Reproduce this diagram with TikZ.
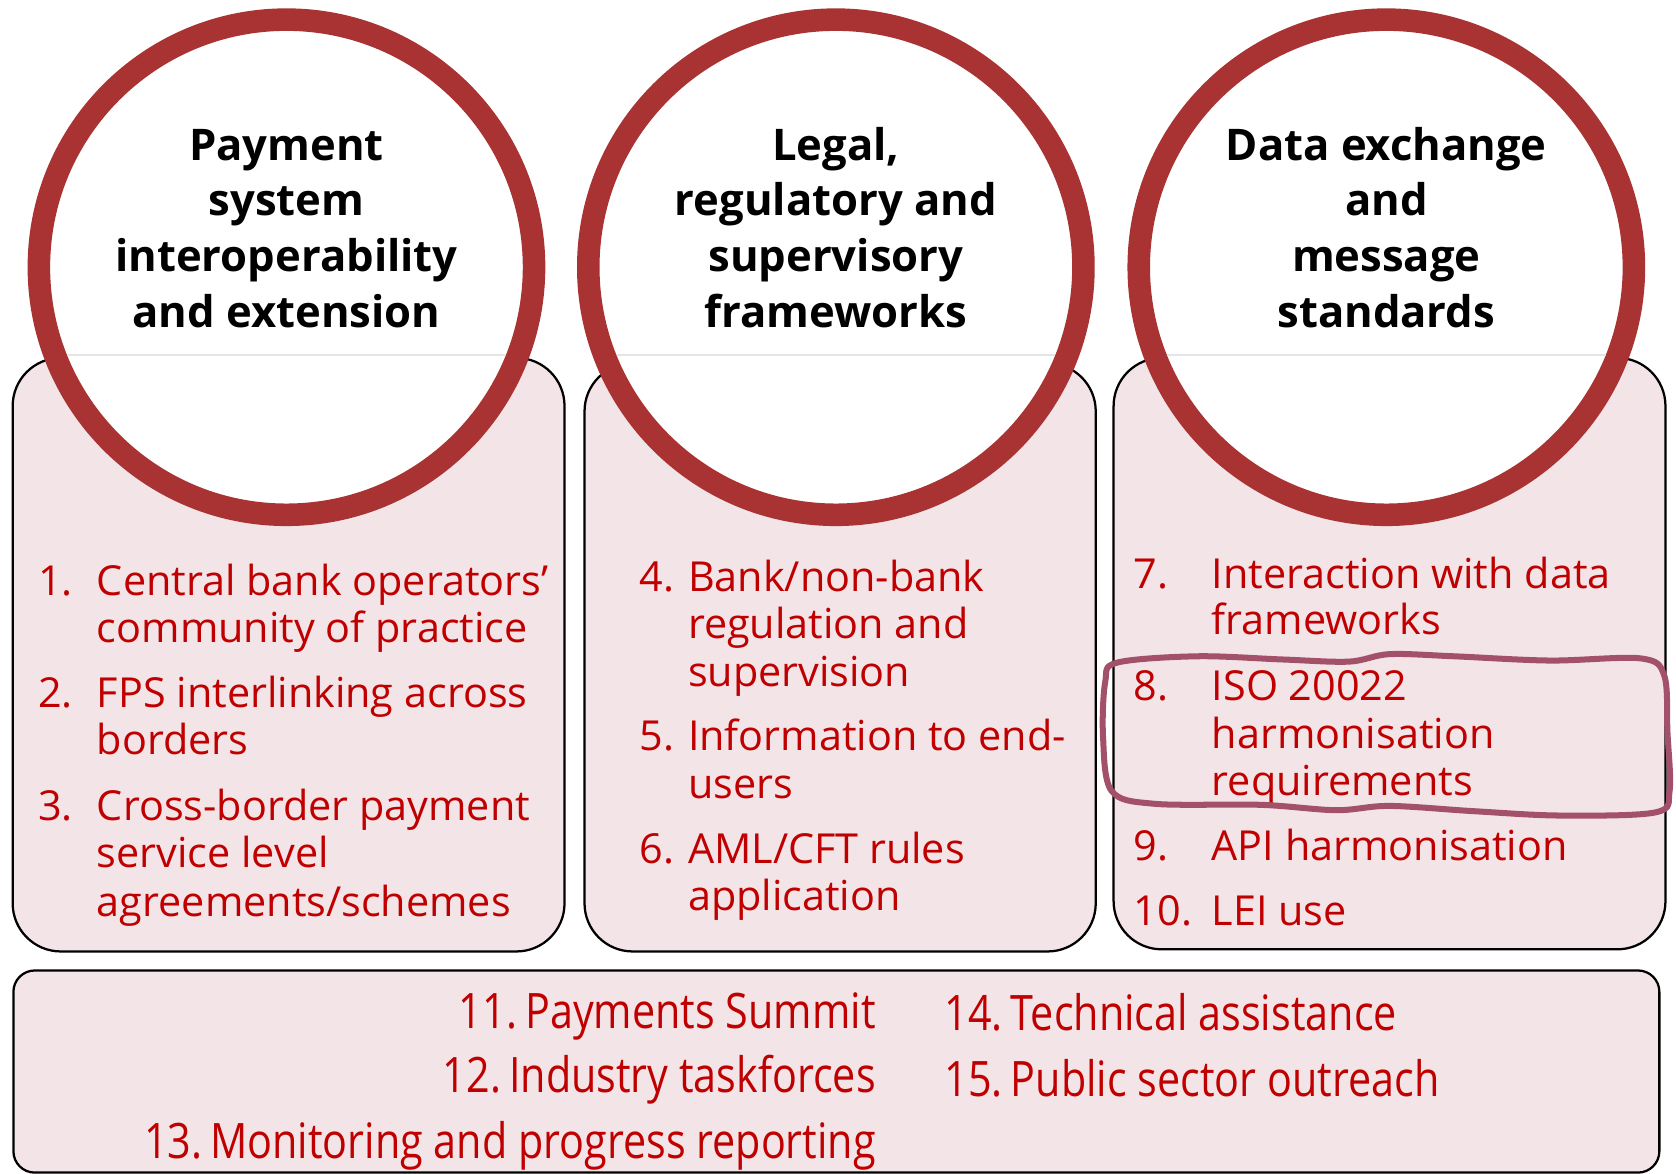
\documentclass[tikz,border=0pt]{standalone}
\usepackage{fontspec}
\setmainfont{Open Sans}
\newfontfamily\narrowfont[FakeStretch=0.845]{Open Sans}
\definecolor{ringred}{HTML}{A93333}
\definecolor{panelpink}{HTML}{F2E4E7}
\definecolor{itemred}{HTML}{C00000}
\definecolor{loopmauve}{HTML}{A3506A}
\tikzset{
  panel/.style={rectangle, draw=black, line width=0.6pt, fill=panelpink,
    rounded corners=0.45cm, inner sep=0pt},
  ring/.style={circle, draw=ringred, line width=6pt, fill=white,
    minimum size=4.63cm, inner sep=0pt},
  head/.style={font=\bfseries\fontsize{11.6}{14}\selectfont, anchor=base, inner sep=0pt},
  item/.style={text=itemred, font=\fontsize{11}{13}\selectfont, anchor=base west, inner sep=0pt},
  foot/.style={text=itemred, font=\narrowfont\fontsize{13}{15}\selectfont, inner sep=0pt}
}
\begin{document}
\begin{tikzpicture}[x=0.01cm, y=-0.01cm]
  \useasboundingbox (0,0) rectangle (1568,1098);
  % panels
  \node[panel, minimum width=5.16cm, minimum height=5.55cm] (box1) at (270,612.5) {};
  \node[panel, minimum width=4.78cm, minimum height=5.50cm] (box2) at (786,615) {};
  \node[panel, minimum width=5.16cm, minimum height=5.53cm] (box3) at (1300,611.5) {};
  \node[panel, rounded corners=0.2cm, minimum width=15.39cm, minimum height=1.89cm] (boxall) at (782.5,1002.5) {};
  % pillars
  \node[ring] (ring1) at (268,250) {};
  \node[ring] (ring2) at (782,250) {};
  \node[ring] (ring3) at (1297,250) {};
  \foreach \r in {ring1,ring2,ring3}
    \draw[black!10, line width=0.6pt] ([xshift=-2.05cm, yshift=-0.82cm]\r.center) -- ([xshift=2.05cm, yshift=-0.82cm]\r.center);
  \foreach \t [count=\i] in {Payment, system, interoperability, and extension}
    \node[head] (ha\i) at (268,98+52*\i) {\t};
  \foreach \t [count=\i] in {{Legal,}, regulatory and, supervisory, frameworks}
    \node[head] (hb\i) at (782,98+52*\i) {\t};
  \foreach \t [count=\i] in {Data exchange, and, message, standards}
    \node[head] (hc\i) at (1297,98+52*\i) {\t};
  % items
  \node[item] (n1) at (35,557) {1.};
  \node[item] (n2) at (35,662) {2.};
  \node[item] (n3) at (35,768) {3.};
  \foreach \y/\t in {557/Central bank operators’, 601/community of practice,
      662/FPS interlinking across, 706/borders, 768/Cross-border payment,
      812/service level, 857/{agreements/schemes}}
    \node[item] (ta\y) at (90,\y) {\t};
  \node[item] (n4) at (598,553) {4.};
  \node[item] (n5) at (598,702) {5.};
  \node[item] (n6) at (598,808) {6.};
  \foreach \y/\t in {553/{Bank/non-bank}, 597/regulation and, 642/supervision,
      702/Information to end-, 747/users, 808/{AML/CFT rules}, 852/application}
    \node[item] (tb\y) at (643,\y) {\t};
  \node[item] (n7) at (1060,551) {7.};
  \node[item] (n8) at (1060,655) {8.};
  \node[item] (n9) at (1060,805) {9.};
  \node[item] (n10) at (1060,866) {10.};
  \foreach \y/\t in {551/Interaction with data, 594/frameworks, 655/ISO 20022,
      700/harmonisation, 744/requirements, 805/API harmonisation, 866/LEI use}
    \node[item] (tc\y) at (1133,\y) {\t};
  % cross-cutting
  \node[foot, anchor=base east] (f11) at (820,962) {11.\,Payments Summit};
  \node[foot, anchor=base east] (f12) at (820,1022) {12.\,Industry taskforces};
  \node[foot, anchor=base east] (f13) at (820,1084) {13.\,Monitoring and progress reporting};
  \node[foot, anchor=base west] (f14) at (883,964) {14.\,Technical assistance};
  \node[foot, anchor=base west] (f15) at (883,1026) {15.\,Public sector outreach};
  % hand-drawn mark round item 8
  \draw[loopmauve, line width=1.6pt] plot[smooth cycle, tension=0.55] coordinates {
    (1045,620) (1120,614) (1200,617) (1262,619) (1300,612) (1360,614)
    (1450,618) (1535,616) (1557,632) (1560,685) (1562,740) (1549,760)
    (1460,763) (1380,759) (1300,754) (1250,758) (1180,753) (1080,752)
    (1040,740) (1032,690) (1034,638)};
\end{tikzpicture}
\end{document}
